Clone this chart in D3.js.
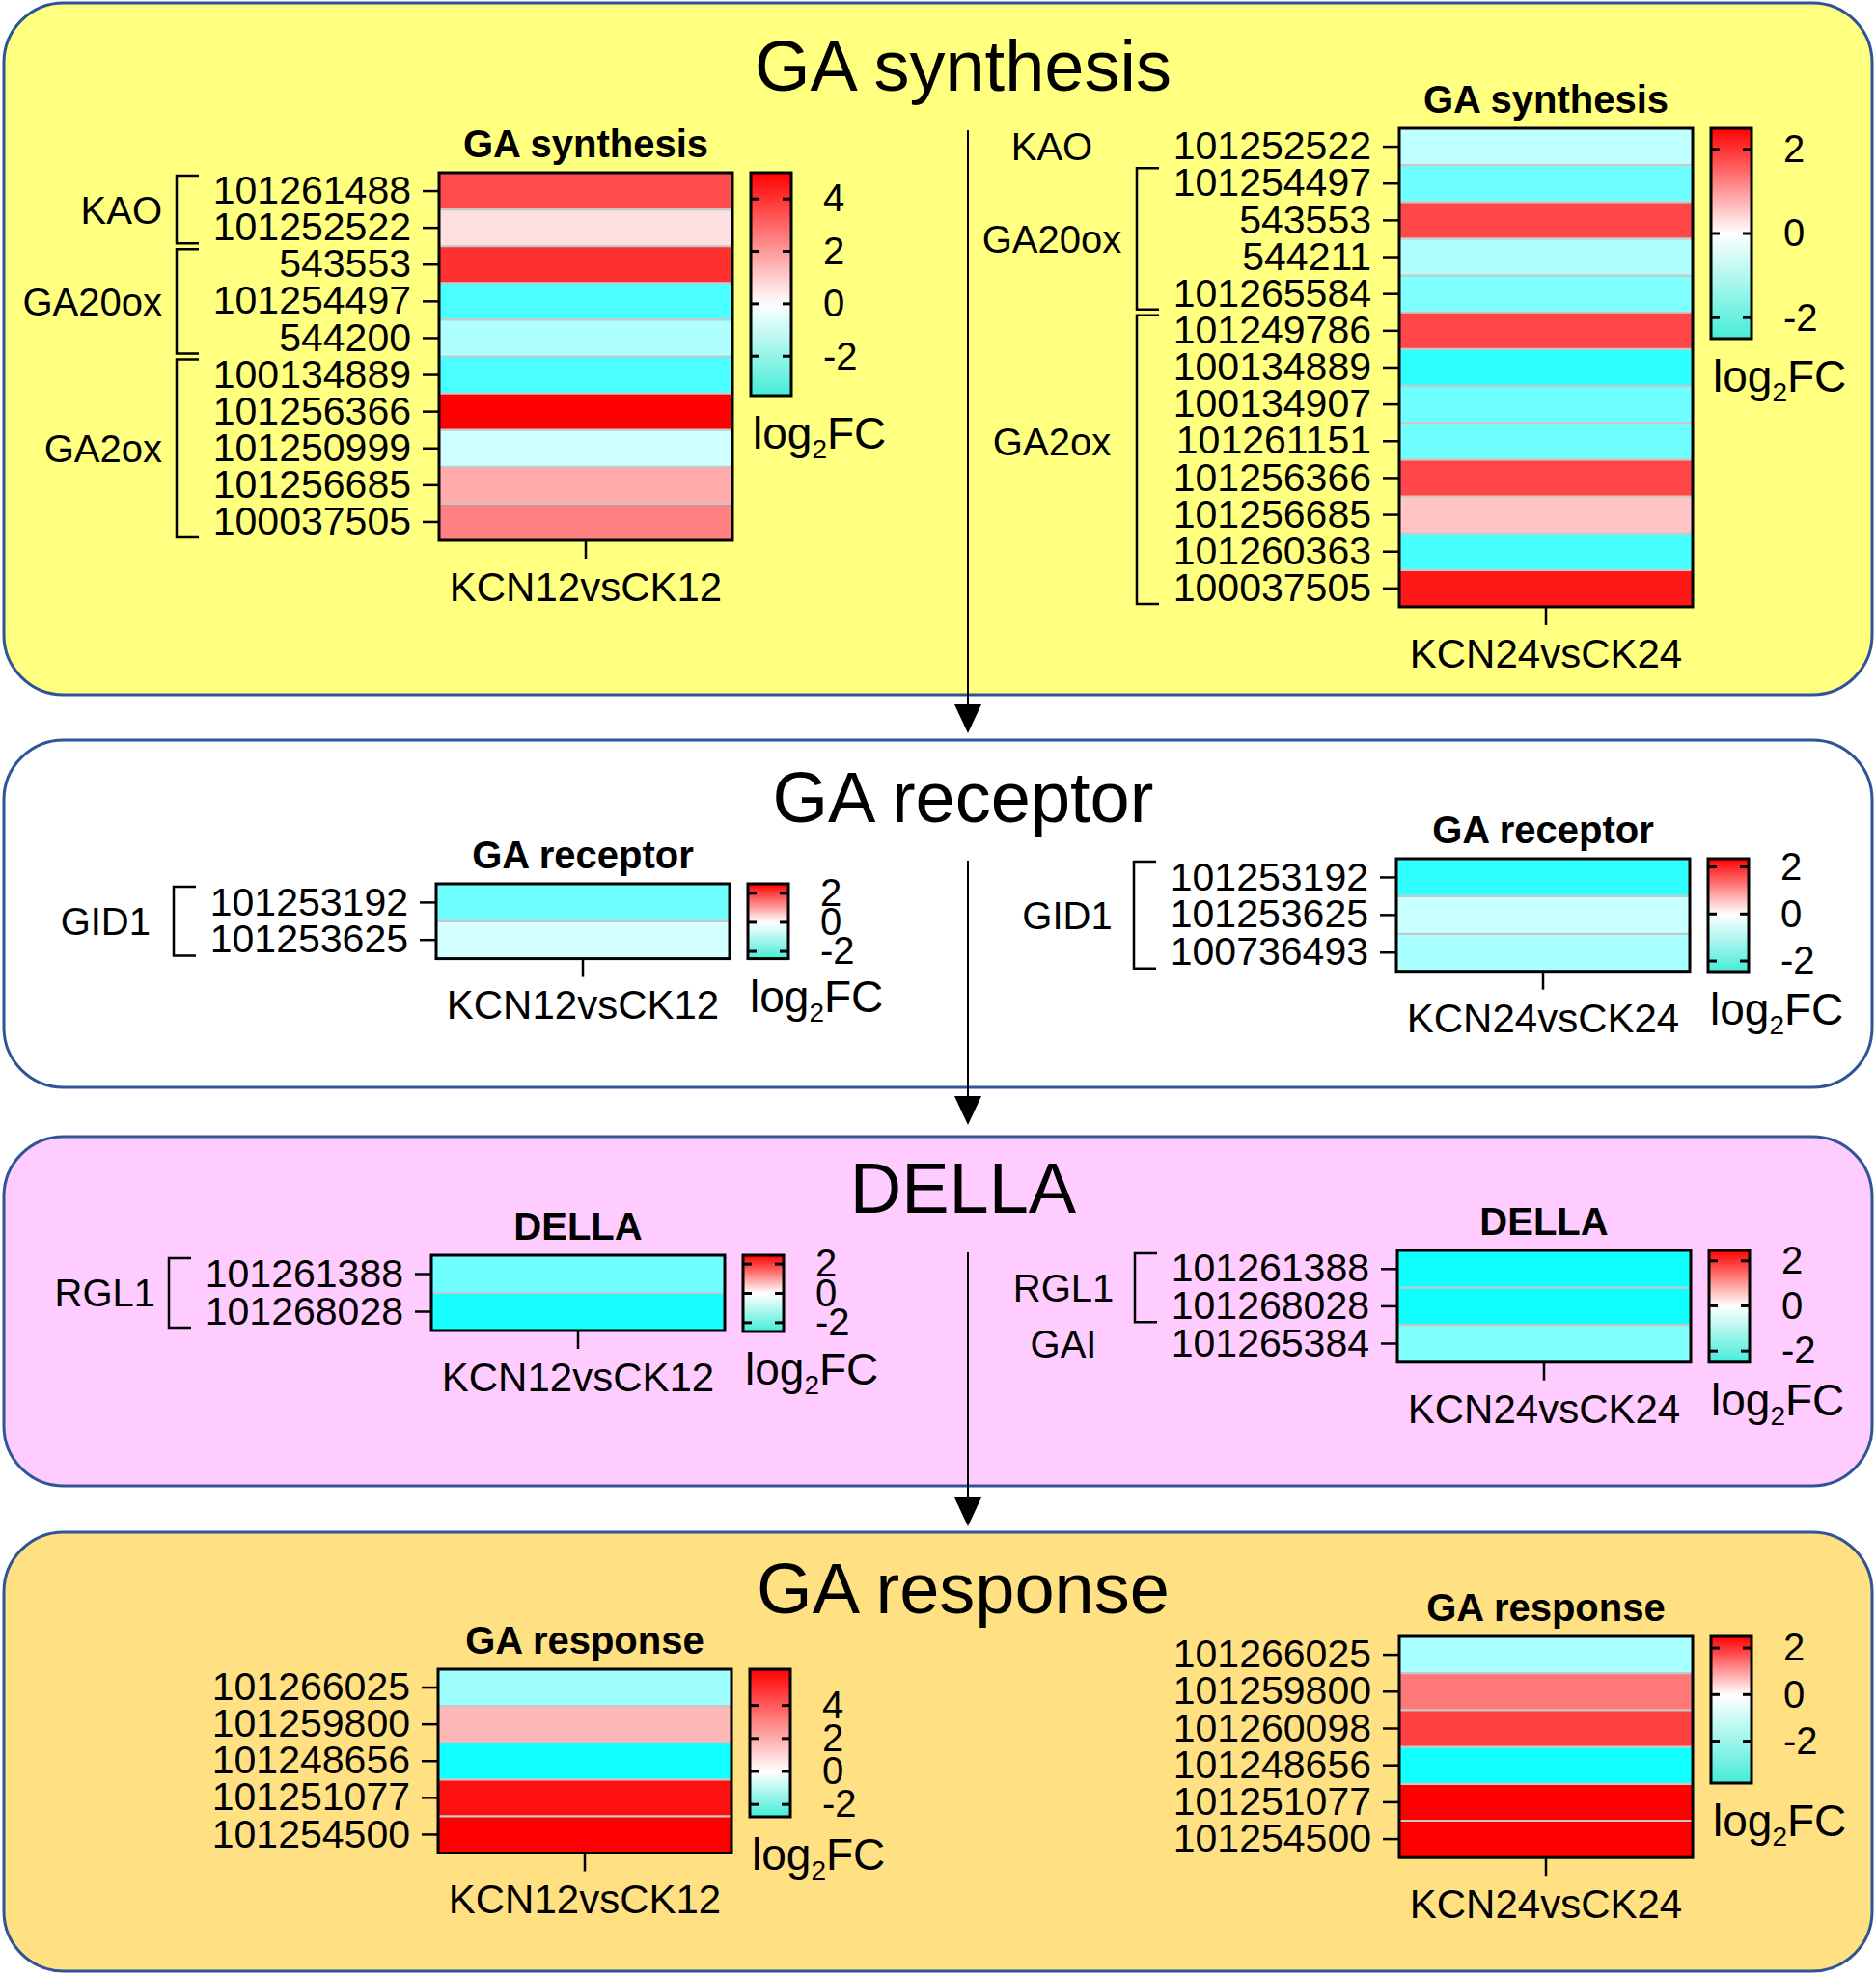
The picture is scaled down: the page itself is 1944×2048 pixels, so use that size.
<!DOCTYPE html>
<html><head><meta charset="utf-8">
<script src="https://cdn.jsdelivr.net/npm/d3@7"></script>
<style>
body{margin:0;background:#fff}
svg{display:block}
text{font-family:"Liberation Sans",Arial,Helvetica,sans-serif;fill:#000}
</style>
</head><body>
<svg id="c" width="1944" height="2048"></svg>
<script>
// ---------------- DATA ----------------
const synth12Genes  = ["101261488","101252522","543553","101254497","544200","100134889","101256366","101250999","101256685","100037505"];
const synth12Values = [3.5, 0.6, 4.05, -2.5, -1.1, -2.5, 5.0, -0.64, 1.65, 2.5];
const synth12Range  = [-3.5, 5];
const synth12Ticks  = [-2, 0, 2, 4];
const synth12Groups = [
  {name:"KAO", from:0, to:1, bracket:true},
  {name:"GA20ox", from:2, to:4, bracket:true},
  {name:"GA2ox", from:5, to:9, bracket:true}
];

const synth24Genes  = ["101252522","101254497","543553","544211","101265584","101249786","100134889","100134907","101261151","101256366","101256685","101260363","100037505"];
const synth24Values = [-0.63, -1.4, 1.8, -0.78, -1.25, 1.8, -2.03, -1.4, -1.4, 1.8, 0.58, -1.8, 2.26];
const synth24Range  = [-2.5, 2.5];
const synth24Ticks  = [-2, 0, 2];
const synth24Groups = [
  {name:"KAO", from:0, to:0, bracket:false},
  {name:"GA20ox", from:1, to:4, bracket:true},
  {name:"GA2ox", from:5, to:12, bracket:true, labelRow:8}
];

const receptor12Genes  = ["101253192","101253625"];
const receptor12Values = [-1.4, -0.42];
const receptor12Range  = [-2.5, 2.65];
const receptor12Ticks  = [-2, 0, 2];
const receptor12Groups = [{name:"GID1", from:0, to:1, bracket:true}];

const receptor24Genes  = ["101253192","101253625","100736493"];
const receptor24Values = [-2.0, -0.53, -0.84];
const receptor24Range  = [-2.45, 2.35];
const receptor24Ticks  = [-2, 0, 2];
const receptor24Groups = [{name:"GID1", from:0, to:2, bracket:true}];

const della12Genes  = ["101261388","101268028"];
const della12Values = [-1.46, -2.35];
const della12Range  = [-2.6, 2.6];
const della12Ticks  = [-2, 0, 2];
const della12Groups = [{name:"RGL1", from:0, to:1, bracket:true}];

const della24Genes  = ["101261388","101268028","101265384"];
const della24Values = [-2.35, -2.35, -1.25];
const della24Range  = [-2.5, 2.46];
const della24Ticks  = [-2, 0, 2];
const della24Groups = [
  {name:"RGL1", from:0, to:1, bracket:true},
  {name:"GAI", from:2, to:2, bracket:false}
];

const response12Genes  = ["101266025","101259800","101248656","101251077","101254500"];
const response12Values = [-1.03, 1.73, -2.58, 5.8, 6.2];
const response12Range  = [-2.75, 6.2];
const response12Ticks  = [-2, 0, 2, 4];
const response12Groups = [];

const response24Genes  = ["101266025","101259800","101260098","101248656","101251077","101254500"];
const response24Values = [-1.3, 1.32, 1.87, -3.56, 2.5, 2.5];
const response24Range  = [-3.8, 2.5];
const response24Ticks  = [-2, 0, 2];
const response24Groups = [];

const stageTitles = ["GA synthesis","GA receptor","DELLA","GA response"];
const comp12 = "KCN12vsCK12";
const comp24 = "KCN24vsCK24";

// ---------------- LAYOUT ----------------
const panels = [
  {title:stageTitles[0], fill:"#ffff80", y0:3,    y1:720,  titleY:94,   arrow:[135,760]},
  {title:stageTitles[1], fill:"#ffffff", y0:767,  y1:1127, titleY:852,  arrow:[892,1166]},
  {title:stageTitles[2], fill:"#ffccff", y0:1178, y1:1540, titleY:1257, arrow:[1298,1582]},
  {title:stageTitles[3], fill:"#ffe082", y0:1588, y1:2043, titleY:1672}
];

const charts = [
  {genes:synth12Genes, values:synth12Values, range:synth12Range, ticks:synth12Ticks, groups:synth12Groups, title:stageTitles[0], comp:comp12,
   x:455, y:179, rowH:38.1, cbLen:231, labelAnchor:"end", labelDx:-287},
  {genes:synth24Genes, values:synth24Values, range:synth24Range, ticks:synth24Ticks, groups:synth24Groups, title:stageTitles[0], comp:comp24,
   x:1450, y:133, rowH:38.15, cbLen:218, labelAnchor:"middle", labelDx:-360},
  {genes:receptor12Genes, values:receptor12Values, range:receptor12Range, ticks:receptor12Ticks, groups:receptor12Groups, title:stageTitles[1], comp:comp12,
   x:452, y:916, rowH:38.8, cbLen:77.6, labelAnchor:"end", labelDx:-296},
  {genes:receptor24Genes, values:receptor24Values, range:receptor24Range, ticks:receptor24Ticks, groups:receptor24Groups, title:stageTitles[1], comp:comp24,
   x:1447, y:890, rowH:38.9, cbLen:117, labelAnchor:"middle", labelDx:-341},
  {genes:della12Genes, values:della12Values, range:della12Range, ticks:della12Ticks, groups:della12Groups, title:stageTitles[2], comp:comp12,
   x:447, y:1301, rowH:39, cbLen:79, labelAnchor:"end", labelDx:-286},
  {genes:della24Genes, values:della24Values, range:della24Range, ticks:della24Ticks, groups:della24Groups, title:stageTitles[2], comp:comp24,
   x:1448, y:1296, rowH:38.6, cbLen:115.8, labelAnchor:"middle", labelDx:-346},
  {genes:response12Genes, values:response12Values, range:response12Range, ticks:response12Ticks, groups:response12Groups, title:stageTitles[3], comp:comp12,
   x:454, y:1730, rowH:38.1, cbLen:153, labelAnchor:"end", labelDx:-287},
  {genes:response24Genes, values:response24Values, range:response24Range, ticks:response24Ticks, groups:response24Groups, title:stageTitles[3], comp:comp24,
   x:1450, y:1696, rowH:38.2, cbLen:152, labelAnchor:"middle", labelDx:-355}
];

const HM_W = 304, CB_W = 42, CB_GAP = 323;
const ARROW_X = 1003;
const COL_LOW = "#00ffff", COL_MID = "#ffffff", COL_HIGH = "#ff0000", CB_LOW = "#45ecd8";

// ---------------- DRAW ----------------
const svg = d3.select("#c");
const defs = svg.append("defs");

// panels
panels.forEach(p => {
  svg.append("rect")
    .attr("x", 4).attr("y", p.y0).attr("width", 1936).attr("height", p.y1 - p.y0)
    .attr("rx", 62).attr("ry", 62)
    .attr("fill", p.fill).attr("stroke", "#2f5597").attr("stroke-width", 3);
  svg.append("text")
    .attr("x", 998).attr("y", p.titleY)
    .attr("text-anchor", "middle")
    .attr("font-size", 74)
    .text(p.title);
  if (p.arrow) {
    const [a0, a1] = p.arrow;
    svg.append("line")
      .attr("x1", ARROW_X).attr("x2", ARROW_X)
      .attr("y1", a0).attr("y2", a1 - 20)
      .attr("stroke", "#000").attr("stroke-width", 2);
    const ph = d3.path();
    ph.moveTo(ARROW_X - 14, a1 - 30);
    ph.lineTo(ARROW_X + 14, a1 - 30);
    ph.lineTo(ARROW_X, a1);
    ph.closePath();
    svg.append("path").attr("d", ph.toString()).attr("fill", "#000");
  }
});

charts.forEach((c, ci) => {
  const g = svg.append("g");
  const n = c.genes.length;
  const yBand = d3.scaleBand().domain(c.genes).range([c.y, c.y + n * c.rowH]).padding(0);
  const xBand = d3.scaleBand().domain([c.comp]).range([c.x, c.x + HM_W]);
  const color = d3.scaleLinear().domain([c.range[0], 0, c.range[1]]).range([COL_LOW, COL_MID, COL_HIGH]).clamp(true);
  const bottom = c.y + n * c.rowH;

  // cells
  g.selectAll("rect.cell").data(c.genes.map((gn, i) => ({gene:gn, v:c.values[i]})))
    .join("rect").attr("class", "cell")
    .attr("x", xBand(c.comp)).attr("width", xBand.bandwidth())
    .attr("y", d => yBand(d.gene)).attr("height", yBand.bandwidth())
    .attr("fill", d => color(d.v));
  // separators
  g.selectAll("line.sep").data(c.genes.slice(1))
    .join("line").attr("class", "sep")
    .attr("x1", c.x).attr("x2", c.x + HM_W)
    .attr("y1", d => yBand(d)).attr("y2", d => yBand(d))
    .attr("stroke", "#c8c8c8").attr("stroke-width", 2.2);
  // border
  g.append("rect").attr("x", c.x).attr("y", c.y).attr("width", HM_W).attr("height", n * c.rowH)
    .attr("fill", "none").attr("stroke", "#000").attr("stroke-width", 3);

  // row axis
  const ya = g.append("g").attr("transform", `translate(${c.x - 1},0)`)
    .call(d3.axisLeft(yBand).tickSize(16).tickPadding(12));
  ya.select(".domain").remove();
  ya.selectAll(".tick line").attr("stroke", "#000").attr("stroke-width", 2.5);
  ya.selectAll(".tick text").attr("font-size", 41).attr("font-family", null).attr("fill", "#000");

  // x axis
  const xa = g.append("g").attr("transform", `translate(0,${bottom + 1})`)
    .call(d3.axisBottom(xBand).tickSize(18).tickPadding(14));
  xa.select(".domain").remove();
  xa.selectAll(".tick line").attr("stroke", "#000").attr("stroke-width", 2.5);
  xa.selectAll(".tick text").attr("font-size", 42).attr("font-family", null).attr("fill", "#000");

  // chart title
  g.append("text").attr("x", c.x + HM_W / 2).attr("y", c.y - 16)
    .attr("text-anchor", "middle").attr("font-size", 40).attr("font-weight", "bold")
    .text(c.title);

  // groups
  c.groups.forEach(gr => {
    const yTop = yBand(c.genes[gr.from]);
    const yBot = yBand(c.genes[gr.to]) + yBand.bandwidth();
    if (gr.bracket) {
      const bx = c.x - 272, arm = 23, inset = 3;
      const bp = d3.path();
      bp.moveTo(bx + arm, yTop + inset);
      bp.lineTo(bx, yTop + inset);
      bp.lineTo(bx, yBot - inset);
      bp.lineTo(bx + arm, yBot - inset);
      g.append("path").attr("d", bp.toString()).attr("fill", "none")
        .attr("stroke", "#000").attr("stroke-width", 2.5);
    }
    const ly = gr.labelRow !== undefined
      ? yBand(c.genes[gr.labelRow]) + yBand.bandwidth() / 2
      : (yTop + yBot) / 2;
    g.append("text").attr("x", c.x + c.labelDx).attr("y", ly).attr("dy", "0.36em")
      .attr("text-anchor", c.labelAnchor).attr("font-size", 40).text(gr.name);
  });

  // colorbar
  const cbX = c.x + CB_GAP;
  const cbScale = d3.scaleLinear().domain(c.range).range([c.y + c.cbLen, c.y]);
  const legColor = d3.scaleLinear().domain([c.range[0], 0, c.range[1]]).range([CB_LOW, COL_MID, COL_HIGH]);
  const gid = "grad" + ci;
  const grad = defs.append("linearGradient").attr("id", gid)
    .attr("x1", 0).attr("y1", 1).attr("x2", 0).attr("y2", 0);
  d3.range(0, 1.0001, 0.05).forEach(t => {
    const v = c.range[0] + t * (c.range[1] - c.range[0]);
    grad.append("stop").attr("offset", t).attr("stop-color", legColor(v));
  });
  g.append("rect").attr("x", cbX).attr("y", c.y).attr("width", CB_W).attr("height", c.cbLen)
    .attr("fill", `url(#${gid})`).attr("stroke", "#000").attr("stroke-width", 3);
  c.ticks.forEach(t => {
    const ty = cbScale(t);
    g.append("line").attr("x1", cbX).attr("x2", cbX + 9).attr("y1", ty).attr("y2", ty)
      .attr("stroke", "#000").attr("stroke-width", 3);
    g.append("line").attr("x1", cbX + CB_W - 9).attr("x2", cbX + CB_W).attr("y1", ty).attr("y2", ty)
      .attr("stroke", "#000").attr("stroke-width", 3);
  });
  const ca = g.append("g").attr("transform", `translate(${cbX + CB_W},0)`)
    .call(d3.axisRight(cbScale).tickValues(c.ticks).tickSize(0).tickPadding(33).tickFormat(d3.format("d")));
  ca.select(".domain").remove();
  ca.selectAll(".tick text").attr("font-size", 40).attr("font-family", null).attr("fill", "#000")
    .text(d => d < 0 ? "-" + Math.abs(d) : String(d));

  // log2FC label
  const lt = g.append("text").attr("x", cbX + 2).attr("y", c.y + c.cbLen + 55).attr("font-size", 46);
  lt.append("tspan").text("log");
  lt.append("tspan").attr("font-size", 28).attr("dy", 10).text("2");
  lt.append("tspan").attr("dy", -10).text("FC");
});
</script>
</body></html>
